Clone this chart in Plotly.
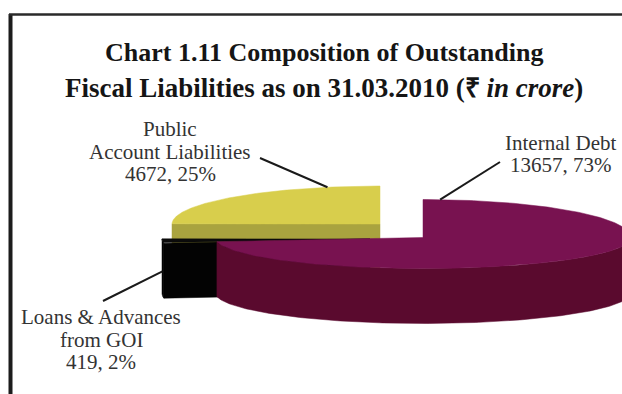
import numpy as np
import plotly.graph_objects as go

# ---- data -------------------------------------------------------------
categories = ["Internal Debt", "Loans & Advances from GOI", "Public Account Liabilities"]
values = [13657, 419, 4672]                      # rupees in crore
label_lines = [["Internal Debt"], ["Loans & Advances", "from GOI"], ["Public", "Account Liabilities"]]

title_lines = ["<b>Chart 1.11 Composition of Outstanding</b>",
               "<b>Fiscal Liabilities as on 31.03.2010 (\u20b9 <i>in crore</i>)</b>"]

# ---- styling / 3-D pie geometry (pixel space) -------------------------
W, H_FIG = 622, 394
CX0, CY0 = 402, 231          # pie centre before explosion
RX = 208                     # horizontal radius of the top face
RY_BACK, RY_FRONT = 38, 31   # vertical radius of the far / near half (fake perspective)
DEPTH = 55                   # thickness of the pie
explode = [(21, 6.5), (-32, 8), (-22, -7)]   # per-slice offset of the exploded slices
top_colors = ["#781250", "#0b0b0b", "#d8ce4c"]
side_colors = ["#5a0a2e", "#030303", "#a9a33f"]

# label placement: centre x, first line y; leader tail + anchor on the slice
label_pos = [(561, 142.5), (101, 317), (170, 129)]
LINE_GAP = 22.5
leader_tail = [(500, 162), (103, 301), (260, 158)]
leader_anchor = [(0.018, 0.0), (0.5, 0.55), (0.837, 0.0)]   # (fraction of slice arc, fraction of depth)
FONT = "Liberation Serif, Times New Roman, serif"

total = sum(values)
fracs = [v / total for v in values]
pcts = [round(f * 100) for f in fracs]
starts = np.concatenate([[0], np.cumsum(fracs)[:-1]]) * 2 * np.pi
ends = np.cumsum(fracs) * 2 * np.pi


def rim(cx, cy, t):
    c = np.cos(t)
    ry = np.where(c > 0, RY_BACK, RY_FRONT)
    return cx + RX * np.sin(t), cy - ry * c


fig = go.Figure()


def poly(xs, ys, color):
    fig.add_trace(go.Scatter(x=list(xs), y=list(ys), mode="lines", fill="toself",
                             fillcolor=color, line=dict(color=color, width=0.5),
                             hoverinfo="skip", showlegend=False))


centres = [(CX0 + dx, CY0 + dy) for dx, dy in explode]

# paint from back to front: public account, loans, internal debt
for i in [2, 1, 0]:
    a0, a1 = starts[i], ends[i]
    cx, cy = centres[i]
    # radial cut faces that turn towards the viewer
    for a, vis in ((a0, np.sin(a0) < -1e-9), (a1, np.sin(a1) > 1e-9)):
        if vis:
            rx_, ry_ = rim(cx, cy, a)
            poly([cx, rx_, rx_, cx, cx], [cy, ry_, ry_ + DEPTH, cy + DEPTH, cy], side_colors[i])
    # outer wall on the front half
    lo, hi = max(a0, np.pi / 2), min(a1, 3 * np.pi / 2)
    if hi > lo:
        t = np.linspace(lo, hi, 200)
        xs, ys = rim(cx, cy, t)
        poly(np.concatenate([xs, xs[::-1], xs[:1]]),
             np.concatenate([ys, ys[::-1] + DEPTH, ys[:1]]), side_colors[i])
    # top face
    t = np.linspace(a0, a1, 300)
    xs, ys = rim(cx, cy, t)
    poly(np.concatenate([[cx], xs, [cx]]), np.concatenate([[cy], ys, [cy]]), top_colors[i])

# leader lines from each label to its slice
for i in range(len(values)):
    f, d = leader_anchor[i]
    a = starts[i] + f * (ends[i] - starts[i])
    ex, ey = rim(*centres[i], a)
    ey = float(ey) + d * DEPTH
    tx, ty = leader_tail[i]
    fig.add_trace(go.Scatter(x=[tx, float(ex)], y=[ty, ey], mode="lines",
                             line=dict(color="#1a1a1a", width=2),
                             hoverinfo="skip", showlegend=False))

# slice labels
for i in range(len(values)):
    lines = label_lines[i] + [f"{values[i]}, {pcts[i]}%"]
    x0, y0 = label_pos[i]
    for k, s in enumerate(lines):
        fig.add_annotation(x=x0, y=y0 + k * LINE_GAP, text=s, showarrow=False,
                           xanchor="center", yanchor="middle", borderpad=0,
                           font=dict(family=FONT, size=21, color="#333333"))

# title
for k, s in enumerate(title_lines):
    fig.add_annotation(x=324, y=52 + k * 36, text=s, showarrow=False,
                       xanchor="center", yanchor="middle",
                       font=dict(family=FONT, size=26 + k, color="#151515"))

# frame (top and left edges)
fig.add_shape(type="line", x0=10.5, x1=10.5, y0=14, y1=H_FIG, line=dict(color="#1c1c1c", width=4))
fig.add_shape(type="line", x0=9, x1=W, y0=14.5, y1=14.5, line=dict(color="#2a2a2a", width=2.5))

fig.update_xaxes(range=[0, W], visible=False, fixedrange=True)
fig.update_yaxes(range=[H_FIG, 0], visible=False, fixedrange=True)
fig.update_layout(width=W, height=H_FIG, margin=dict(l=0, r=0, t=0, b=0),
                  paper_bgcolor="white", plot_bgcolor="white", showlegend=False)

fig.write_html("out.html")
